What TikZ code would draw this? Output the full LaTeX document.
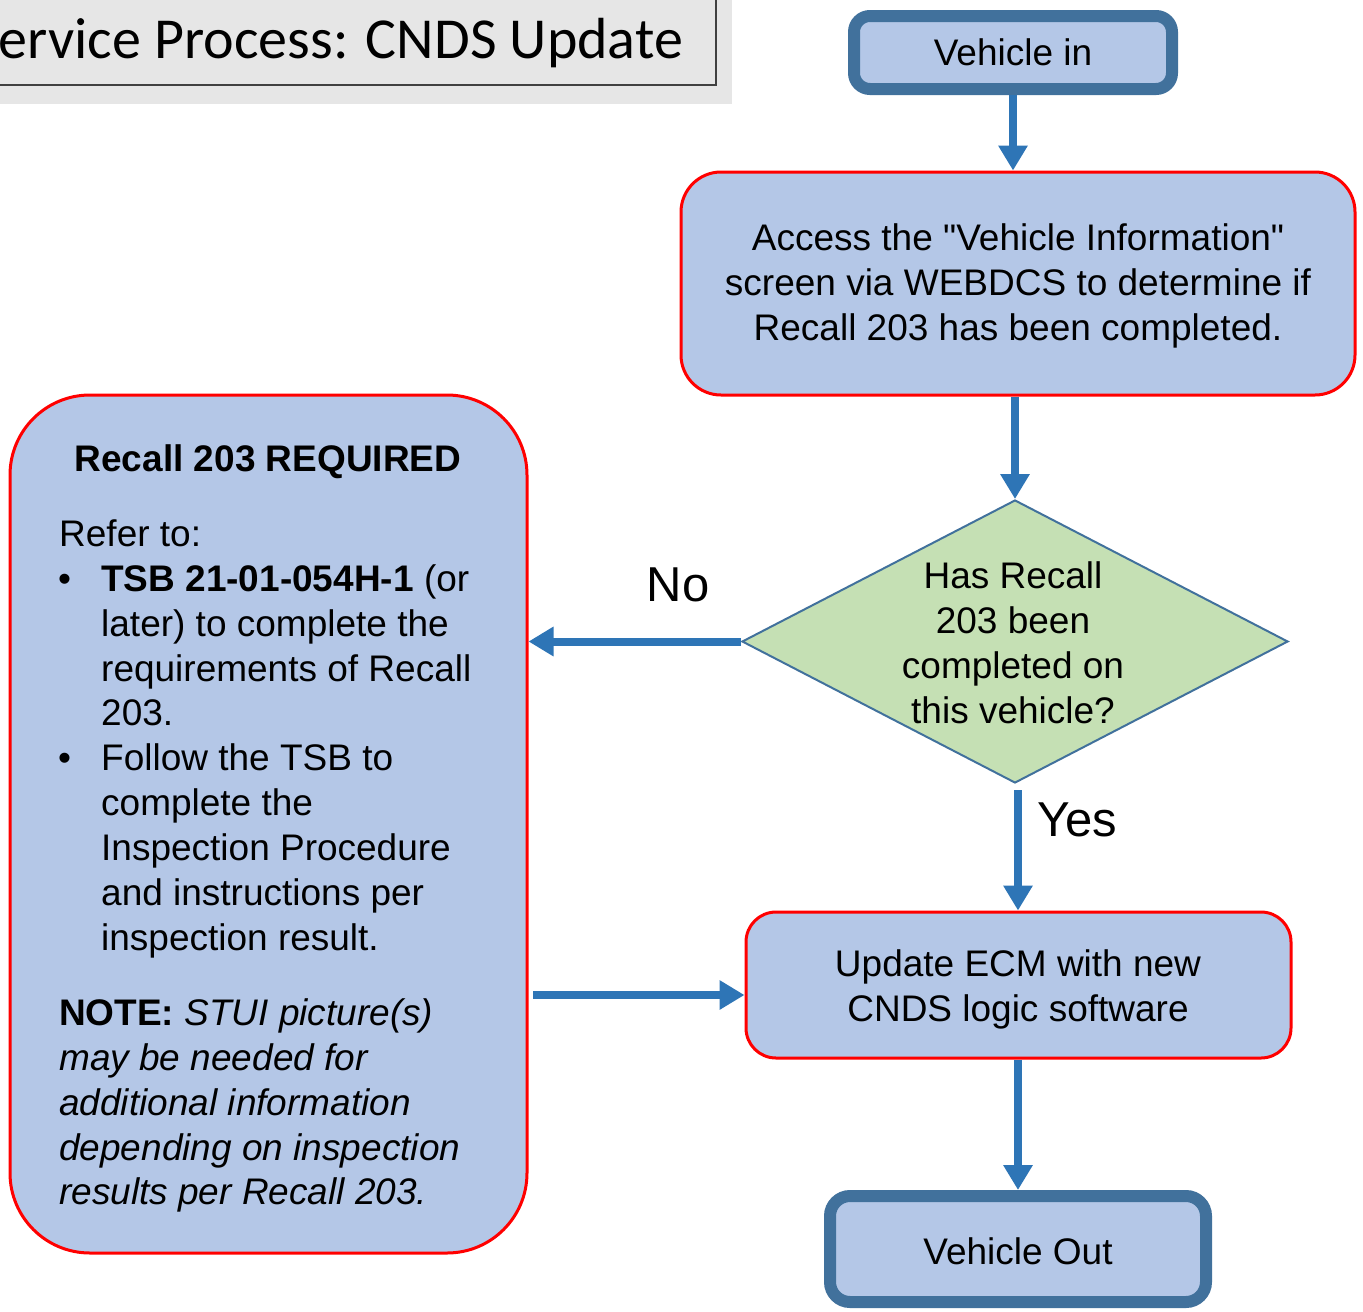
\documentclass[tikz,border=0pt]{standalone}
\usepackage{fontspec}
\setmainfont{Liberation Sans}
\newfontfamily\plainfont{Liberation Sans}
\newfontfamily\titlefont{Carlito}
\usetikzlibrary{shapes.geometric,arrows.meta}
\definecolor{boxfill}{HTML}{B4C7E7}
\definecolor{thickborder}{HTML}{41719C}
\definecolor{arrowblue}{HTML}{2E75B6}
\definecolor{decfill}{HTML}{C5E0B4}
\definecolor{redb}{HTML}{FF0000}
\definecolor{titlebg}{HTML}{E6E6E6}
\definecolor{titleline}{HTML}{404040}
\newcommand{\bodyfs}{\fontsize{37}{45}\selectfont}
\newcommand{\dq}{{\plainfont"}}
\begin{document}
\begin{tikzpicture}[x=1pt,y=-1pt,
  terminal/.style={draw=thickborder, line width=12pt, fill=boxfill, rounded corners=16pt, inner sep=0pt},
  process/.style={draw=redb, line width=3pt, fill=boxfill, inner sep=0pt},
  decision/.style={diamond, draw=thickborder, line width=2pt, fill=decfill, inner sep=0pt},
  txt/.style={font=\bodyfs, align=center, inner sep=0pt},
  ltxt/.style={font=\bodyfs, anchor=base west, inner sep=0pt},
  flow/.style={draw=arrowblue, line width=8pt, -{Triangle[length=25pt,width=28pt]}},
  lbl/.style={font=\fontsize{49}{56}\selectfont, inner sep=0pt}
]
\useasboundingbox (0,0) rectangle (1363,1312);
\fill[white] (0,0) rectangle (1363,1312);
% title
\fill[titlebg] (0,0) rectangle (732,104);
\draw[titleline, line width=1.5pt] (-5,-5) rectangle (716,85);
\node[anchor=base east, inner sep=0pt, font=\titlefont\fontsize{58}{64}\selectfont] (title) at (683,58) {Service Process: CNDS Update};

% nodes
\node[terminal, minimum width=318pt, minimum height=73pt] (vin) at (1013,52.5) {};
\node[txt] (vint) at (1013,52) {Vehicle in};

\node[process, rounded corners=40pt, minimum width=674pt, minimum height=223pt] (access) at (1018,283.5) {};
\node[txt] (acct) at (1018,286) {Access the \dq Vehicle Information\dq\\screen via WEBDCS to determine if\\Recall 203 has been completed.};

\node[decision, minimum width=546pt, minimum height=283pt] (dec) at (1015,641.5) {};
\node[txt] (dect) at (1013,643) {Has Recall\\203 been\\completed on\\this vehicle?};

\node[process, rounded corners=30pt, minimum width=545pt, minimum height=146pt] (update) at (1018.5,985) {};
\node[txt] (updt) at (1018,989) {Update ECM with new\\CNDS logic software};

\node[terminal, rounded corners=20pt, minimum width=376pt, minimum height=106pt] (vout) at (1018,1249) {};
\node[txt] (voutt) at (1018,1251) {Vehicle Out};

\node[process, rounded corners=80pt, minimum width=517pt, minimum height=858pt] (left) at (268.5,824) {};
\node[font=\bodyfs\bfseries, anchor=base, inner sep=0pt] (lt0) at (268,471) {Recall 203 REQUIRED};
\node[ltxt] (lt1) at (59,546) {Refer to:};
\node[ltxt] (b1) at (58,591) {•};
\node[ltxt] (lt2) at (101,591) {\textbf{TSB 21-01-054H-1} (or};
\node[ltxt] (lt3) at (101,636) {later) to complete the};
\node[ltxt] (lt4) at (101,681) {requirements of Recall};
\node[ltxt] (lt5) at (101,725) {203.};
\node[ltxt] (b2) at (58,770) {•};
\node[ltxt] (lt6) at (101,770) {Follow the TSB to};
\node[ltxt] (lt7) at (101,815) {complete the};
\node[ltxt] (lt8) at (101,860) {Inspection Procedure};
\node[ltxt] (lt9) at (101,905) {and instructions per};
\node[ltxt] (lt10) at (101,950) {inspection result.};
\node[ltxt] (lt11) at (59,1025) {\textbf{NOTE:} \itshape STUI picture(s)};
\node[ltxt] (lt12) at (59,1070) {\itshape may be needed for};
\node[ltxt] (lt13) at (59,1115) {\itshape additional information};
\node[ltxt] (lt14) at (59,1160) {\itshape depending on inspection};
\node[ltxt] (lt15) at (59,1204) {\itshape results per Recall 203.};

% connectors
\draw[flow] (vin.south) -- (vin.south |- access.north);
\draw[flow] (dec.north |- access.south) -- (dec.north);
\draw[flow] (dec.west) -- (dec.west -| left.east);
\coordinate (ys) at (1018,790);
\draw[flow] (ys) -- (ys |- update.north);
\coordinate (ls) at (533,995);
\draw[flow] (ls) -- (ls -| update.west);
\draw[flow] (vout.north |- update.south) -- (vout.north);

% labels
\node[lbl] (no) at (678,585) {No};
\node[lbl] (yes) at (1077,820) {Yes};
\end{tikzpicture}
\end{document}
